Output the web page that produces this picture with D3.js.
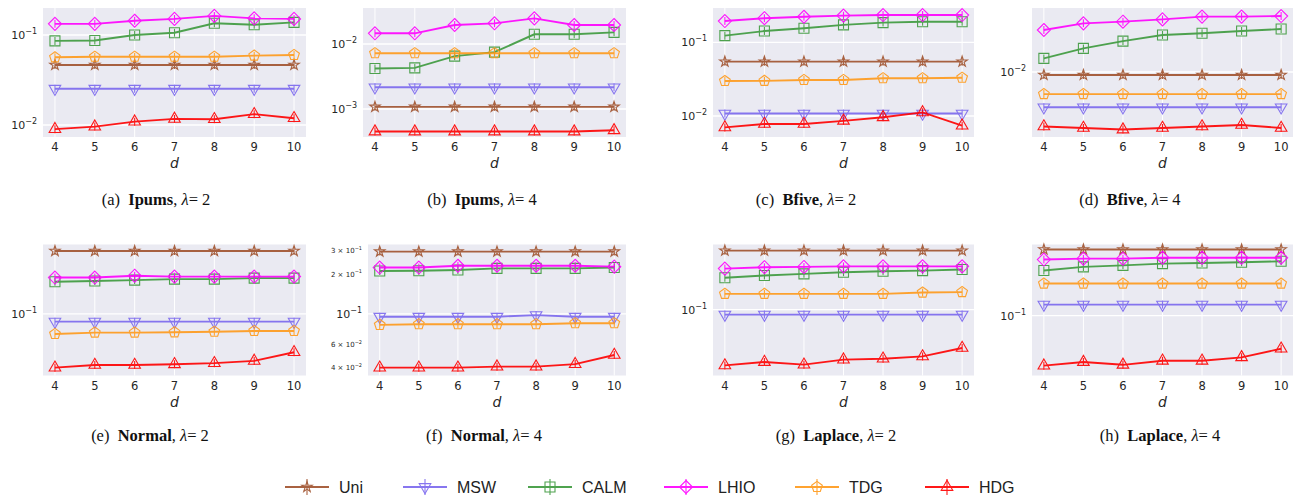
<!DOCTYPE html>
<html><head><meta charset="utf-8">
<script src="https://cdn.jsdelivr.net/npm/d3@7"></script>
<style>body{margin:0;background:#fff;} svg{display:block}</style>
</head><body>
<svg id="c" width="1294" height="497"></svg>
<script>
// ---------- DATA ----------
const xValues = [4, 5, 6, 7, 8, 9, 10];
const seriesNames = ["Uni", "MSW", "CALM", "LHIO", "TDG", "HDG"];
// rows in order: Uni, MSW, CALM, LHIO, TDG, HDG
const ipumsL2 = [
  [0.0465, 0.0465, 0.0465, 0.0465, 0.0465, 0.0465, 0.0465],
  [0.0253, 0.0253, 0.0253, 0.0253, 0.0253, 0.0253, 0.0253],
  [0.086, 0.087, 0.100, 0.106, 0.135, 0.130, 0.138],
  [0.133, 0.133, 0.144, 0.151, 0.163, 0.153, 0.151],
  [0.0565, 0.0574, 0.0574, 0.0574, 0.0574, 0.059, 0.060],
  [0.0090, 0.0096, 0.0109, 0.0117, 0.0116, 0.0132, 0.0119]
];
const ipumsL4 = [
  [0.00108, 0.00108, 0.00108, 0.00108, 0.00108, 0.00108, 0.00108],
  [0.00216, 0.00216, 0.00216, 0.00216, 0.00216, 0.00216, 0.00216],
  [0.0042, 0.0043, 0.0065, 0.0075, 0.0141, 0.0141, 0.0151],
  [0.0146, 0.0146, 0.0196, 0.0208, 0.0248, 0.0196, 0.0196],
  [0.0072, 0.0072, 0.0072, 0.0072, 0.0072, 0.0072, 0.0072],
  [0.00045, 0.00045, 0.00045, 0.00045, 0.00045, 0.00045, 0.00047]
];
const bfiveL2 = [
  [0.0546, 0.0546, 0.0546, 0.0546, 0.0546, 0.0546, 0.0546],
  [0.0108, 0.0108, 0.0108, 0.0108, 0.0108, 0.0108, 0.0108],
  [0.123, 0.142, 0.155, 0.172, 0.185, 0.190, 0.190],
  [0.194, 0.212, 0.222, 0.230, 0.234, 0.234, 0.234],
  [0.0298, 0.0300, 0.0308, 0.0308, 0.0325, 0.0325, 0.0330],
  [0.0070, 0.0078, 0.0078, 0.0086, 0.0096, 0.0112, 0.0074]
];
const bfiveL4 = [
  [0.0094, 0.0094, 0.0094, 0.0094, 0.0094, 0.0094, 0.0094],
  [0.00478, 0.00478, 0.00478, 0.00478, 0.00478, 0.00478, 0.00478],
  [0.0133, 0.0164, 0.0191, 0.0217, 0.0225, 0.0236, 0.0246],
  [0.0241, 0.0277, 0.0287, 0.0301, 0.0319, 0.0319, 0.0323],
  [0.0063, 0.0063, 0.0063, 0.0063, 0.0063, 0.0063, 0.0063],
  [0.0032, 0.0031, 0.0030, 0.0031, 0.0032, 0.0033, 0.0031]
];
const normalL2 = [
  [0.295, 0.295, 0.295, 0.295, 0.295, 0.295, 0.295],
  [0.0876, 0.0876, 0.0876, 0.0876, 0.0876, 0.0876, 0.0876],
  [0.174, 0.176, 0.179, 0.182, 0.182, 0.185, 0.185],
  [0.187, 0.187, 0.193, 0.190, 0.190, 0.190, 0.190],
  [0.0709, 0.0725, 0.0725, 0.0729, 0.0737, 0.0746, 0.0746],
  [0.0397, 0.0416, 0.0416, 0.0421, 0.0429, 0.0446, 0.0518]
];
const normalL4 = [
  [0.292, 0.292, 0.292, 0.292, 0.292, 0.292, 0.292],
  [0.0954, 0.0954, 0.0954, 0.0954, 0.098, 0.0954, 0.0954],
  [0.209, 0.210, 0.213, 0.219, 0.219, 0.219, 0.222],
  [0.222, 0.222, 0.229, 0.229, 0.229, 0.229, 0.2255],
  [0.0828, 0.0838, 0.0838, 0.0838, 0.0838, 0.0852, 0.0852],
  [0.0397, 0.0397, 0.0397, 0.0404, 0.0404, 0.0422, 0.0494]
];
const laplaceL2 = [
  [0.275, 0.275, 0.275, 0.275, 0.275, 0.275, 0.275],
  [0.0918, 0.0918, 0.0918, 0.0918, 0.0918, 0.0918, 0.0918],
  [0.1725, 0.1795, 0.1847, 0.1897, 0.193, 0.1953, 0.199],
  [0.202, 0.207, 0.208, 0.210, 0.210, 0.210, 0.210],
  [0.131, 0.131, 0.131, 0.131, 0.131, 0.134, 0.135],
  [0.0384, 0.0407, 0.0389, 0.0424, 0.0431, 0.0448, 0.0518]
];
const laplaceL4 = [
  [0.311, 0.311, 0.311, 0.311, 0.311, 0.311, 0.311],
  [0.1208, 0.1208, 0.1208, 0.1208, 0.1208, 0.1208, 0.1208],
  [0.2168, 0.2308, 0.237, 0.244, 0.247, 0.250, 0.254],
  [0.262, 0.266, 0.266, 0.270, 0.270, 0.270, 0.270],
  [0.1734, 0.1734, 0.1734, 0.1734, 0.1734, 0.1734, 0.1734],
  [0.0424, 0.0451, 0.043, 0.0461, 0.0461, 0.0489, 0.0567]
];
const captionLetters = ["(a)", "(b)", "(c)", "(d)", "(e)", "(f)", "(g)", "(h)"];
const captionDatasets = ["Ipums", "Ipums", "Bfive", "Bfive", "Normal", "Normal", "Laplace", "Laplace"];
const captionLambdas = ["2", "4", "2", "4", "2", "4", "2", "4"];
const majorTicks = [[0.1, 0.01], [0.01, 0.001], [0.1, 0.01], [0.01], [0.1], [0.1], [0.1], [0.1]];
const minorTickValues = [0.3, 0.2, 0.06, 0.04];
const minorTickMantissas = ["3", "2", "6", "4"];
const minorTickExps = ["−1", "−1", "−2", "−2"];

// ---------- STYLE / LAYOUT ----------
const colors = ["#a0522d", "#7b68ee", "#3d9a3d", "#ff00ff", "#ff9a1a", "#ff0000"];
const markerTypes = ["star", "triDown", "square", "diamond", "pentagon", "triUp"];
const panels = [
  {data: ipumsL2,  l: 43,   r: 306,  t: 8,     b: 137,   dom: [0.00736, 0.1995], cx: 156,  cy: 205},
  {data: ipumsL4,  l: 363,  r: 626,  t: 8,     b: 137,   dom: [0.000371, 0.0358], cx: 482, cy: 205},
  {data: bfiveL2,  l: 713,  r: 974,  t: 8,     b: 137,   dom: [0.00519, 0.2917], cx: 806,  cy: 205},
  {data: bfiveL4,  l: 1032, r: 1293, t: 8,     b: 137,   dom: [0.002566, 0.0382], cx: 1130, cy: 205},
  {data: normalL2, l: 43,   r: 306,  t: 244.5, b: 375.5, dom: [0.0347, 0.330], cx: 150,  cy: 441},
  {data: normalL4, l: 368,  r: 626,  t: 244.5, b: 375.5, dom: [0.0347, 0.330], cx: 484,  cy: 441},
  {data: laplaceL2,l: 713,  r: 974,  t: 244.5, b: 375.5, dom: [0.0323, 0.3055], cx: 836, cy: 441},
  {data: laplaceL4,l: 1032, r: 1293, t: 244.5, b: 375.5, dom: [0.0358, 0.339], cx: 1160, cy: 441}
];

function markerPath(type, s) {
  s = s || 1;
  if (type === "star") return d3.symbol(d3.symbolStar, 34 * s * s)();
  if (type === "triUp") return d3.symbol(d3.symbolTriangle, 58 * s * s)();
  if (type === "triDown") return d3.symbol(d3.symbolTriangle, 58 * s * s)();
  if (type === "square") { const h = 5 * s; return `M${-h},${-h}H${h}V${h}H${-h}Z`; }
  if (type === "diamond") { const h = 6.5 * s; return `M0,${-h}L${h},0L0,${h}L${-h},0Z`; }
  if (type === "pentagon") {
    const r = 5.6 * s; const pts = d3.range(5).map(k => {
      const a = -Math.PI / 2 + k * 2 * Math.PI / 5; return [r * Math.cos(a), r * Math.sin(a)];
    });
    return "M" + pts.map(p => p.join(",")).join("L") + "Z";
  }
}

const svg = d3.select("#c");

function supText(sel, base, exp, size, supSize) {
  sel.append("tspan").text(base).attr("font-size", size);
  sel.append("tspan").text(exp).attr("font-size", supSize).attr("dy", -size * 0.45);
}

panels.forEach((p, pi) => {
  const g = svg.append("g");
  const x = d3.scaleLinear().domain([3.7, 10.3]).range([p.l, p.r]);
  const y = d3.scaleLog().domain(p.dom).range([p.b, p.t]);
  g.append("rect").attr("x", p.l).attr("y", p.t).attr("width", p.r - p.l).attr("height", p.b - p.t).attr("fill", "#eaeaf2");
  // grid
  g.selectAll(".vg").data(xValues).enter().append("line")
    .attr("x1", d => x(d)).attr("x2", d => x(d)).attr("y1", p.t).attr("y2", p.b)
    .attr("stroke", "#fff").attr("stroke-width", 1);
  g.selectAll(".hg").data(majorTicks[pi]).enter().append("line")
    .attr("x1", p.l).attr("x2", p.r).attr("y1", d => y(d)).attr("y2", d => y(d))
    .attr("stroke", "#fff").attr("stroke-width", 1.3);
  // x tick labels
  g.selectAll(".xt").data(xValues).enter().append("text")
    .attr("x", d => x(d)).attr("y", p.b + 14).attr("text-anchor", "middle")
    .attr("font-family", "DejaVu Sans").attr("font-size", 11.5).attr("fill", "#262626").text(d => d);
  g.append("text").attr("x", (p.l + p.r) / 2).attr("y", p.b + 31).attr("text-anchor", "middle")
    .attr("font-family", "DejaVu Sans").attr("font-style", "italic").attr("font-size", 14).attr("fill", "#262626").text("d");
  // y tick labels
  majorTicks[pi].forEach(v => {
    const e = Math.round(Math.log10(v));
    const t = g.append("text").attr("x", p.l - 6).attr("y", y(v) + 4).attr("text-anchor", "end")
      .attr("font-family", "DejaVu Sans").attr("fill", "#262626");
    supText(t, "10", "−" + Math.abs(e), 11, 8);
  });
  if (pi === 5) {
    minorTickValues.forEach((v, i) => {
      const t = g.append("text").attr("x", p.l - 6).attr("y", y(v) + 3).attr("text-anchor", "end")
        .attr("font-family", "DejaVu Sans").attr("fill", "#262626");
      supText(t, minorTickMantissas[i] + " × 10", minorTickExps[i], 7, 5);
    });
  }
  // series
  const line = d3.line().x((d, i) => x(xValues[i])).y(d => y(d));
  p.data.forEach((vals, si) => {
    const sg = g.append("g").attr("opacity", 0.9);
    sg.append("path").attr("d", line(vals)).attr("fill", "none").attr("stroke", colors[si]).attr("stroke-width", 1.9);
    vals.forEach((v, i) => {
      const cx = x(xValues[i]), cy = y(v);
      sg.append("path").attr("d", markerPath(markerTypes[si]))
        .attr("transform", `translate(${cx},${cy})` + (markerTypes[si] === "triDown" ? " rotate(180)" : ""))
        .attr("fill", "none").attr("stroke", colors[si]).attr("stroke-width", 1.1);
      sg.append("line").attr("x1", cx).attr("x2", cx).attr("y1", cy - 4).attr("y2", cy + 4)
        .attr("stroke", colors[si]).attr("stroke-width", 1.1);
    });
  });
  // caption
  const c = svg.append("text").attr("x", p.cx).attr("y", p.cy).attr("text-anchor", "middle")
    .attr("font-family", "Liberation Serif").attr("font-size", 16.5).attr("fill", "#111");
  c.append("tspan").text(captionLetters[pi] + "\u2002");
  c.append("tspan").attr("font-weight", "bold").text(captionDatasets[pi]);
  c.append("tspan").text(", ");
  c.append("tspan").attr("font-style", "italic").text("λ");
  c.append("tspan").text("= " + captionLambdas[pi]);
});

// legend
const legX = [285, 403, 528, 664, 795, 925];
const legY = 487;
seriesNames.forEach((n, i) => {
  const g = svg.append("g").attr("opacity", 0.9);
  g.append("line").attr("x1", legX[i]).attr("x2", legX[i] + 44).attr("y1", legY).attr("y2", legY)
    .attr("stroke", colors[i]).attr("stroke-width", 2);
  g.append("path").attr("d", markerPath(markerTypes[i]))
    .attr("transform", `translate(${legX[i] + 22},${legY})` + (markerTypes[i] === "triDown" ? " rotate(180)" : ""))
    .attr("fill", "none").attr("stroke", colors[i]).attr("stroke-width", 1.1);
  g.append("line").attr("x1", legX[i] + 22).attr("x2", legX[i] + 22).attr("y1", legY - 8).attr("y2", legY + 8)
    .attr("stroke", colors[i]).attr("stroke-width", 1.1);
  svg.append("text").attr("x", legX[i] + 54).attr("y", legY + 6).attr("font-family", "Liberation Sans")
    .attr("font-size", 16).attr("fill", "#222").text(n);
});
</script>
</body></html>
